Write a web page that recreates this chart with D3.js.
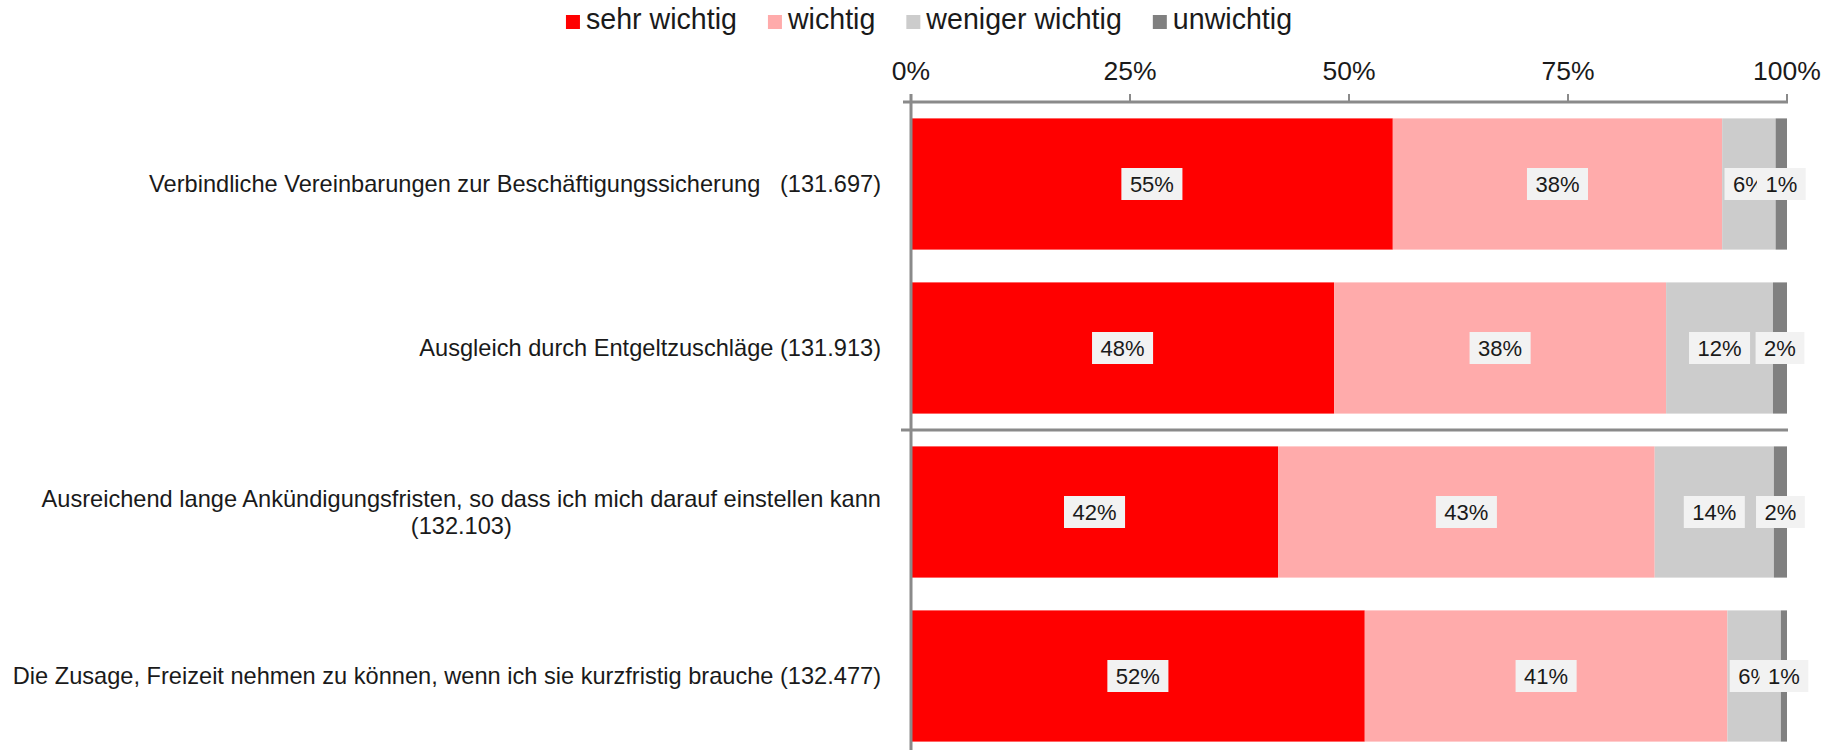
<!DOCTYPE html>
<html>
<head>
<meta charset="utf-8">
<script src="https://cdn.jsdelivr.net/npm/d3@7"></script>
<style>
  body { margin: 0; background: #fff; }
  text { font-family: "Liberation Sans", Arial, sans-serif; fill: #1a1a1a; }
</style>
</head>
<body>
<div id="chart"></div>
<script>
// DATA
var categories = [
  ["Verbindliche Vereinbarungen zur Beschäftigungssicherung   (131.697)"],
  ["Ausgleich durch Entgeltzuschläge (131.913)"],
  ["Ausreichend lange Ankündigungsfristen, so dass ich mich darauf einstellen kann", "(132.103)"],
  ["Die Zusage, Freizeit nehmen zu können, wenn ich sie kurzfristig brauche (132.477)"]
];
var seriesNames = ["sehr wichtig", "wichtig", "weniger wichtig", "unwichtig"];
var sehrWichtig = [55.0, 48.3, 41.9, 51.8];
var wichtig = [37.6, 37.9, 43.0, 41.4];
var wenigerWichtig = [6.1, 12.2, 13.6, 6.1];
var unwichtig = [1.3, 1.6, 1.5, 0.7];
var tickValues = [0, 25, 50, 75, 100];

var colours = ["#ff0000", "#ffabab", "#cccccc", "#808080"];

var width = 1838, height = 750;
var table = categories.map(function(c, i) {
  return {idx: i, "sehr wichtig": sehrWichtig[i], "wichtig": wichtig[i],
          "weniger wichtig": wenigerWichtig[i], "unwichtig": unwichtig[i]};
});

var svg = d3.select("#chart").append("svg")
  .attr("width", width)
  .attr("height", height);

var xScale = d3.scaleLinear().domain([0, 100]).range([911, 1787]);
var yScale = d3.scaleBand()
  .domain(d3.range(categories.length))
  .range([102, 758])
  .paddingInner(0.2)
  .paddingOuter(0.1);
var colour = d3.scaleOrdinal().domain(seriesNames).range(colours);

var stacked = d3.stack().keys(seriesNames)(table);

// bars
var layers = svg.append("g").selectAll("g")
  .data(stacked)
  .enter().append("g")
  .attr("fill", function(d) { return colour(d.key); });

layers.selectAll("rect")
  .data(function(d) { return d; })
  .enter().append("rect")
  .attr("x", function(d) { return xScale(d[0]); })
  .attr("y", function(d) { return yScale(d.data.idx); })
  .attr("width", function(d) { return xScale(d[1]) - xScale(d[0]); })
  .attr("height", yScale.bandwidth());

// axes
var axisCol = "#8a8a8a";
var axisG = svg.append("g");
axisG.append("line")
  .attr("x1", xScale(0) - 8).attr("x2", xScale(100) + 1)
  .attr("y1", 102).attr("y2", 102)
  .attr("stroke", axisCol).attr("stroke-width", 3);
axisG.selectAll("line.tick")
  .data(tickValues)
  .enter().append("line")
  .attr("class", "tick")
  .attr("x1", function(d) { return xScale(d); })
  .attr("x2", function(d) { return xScale(d); })
  .attr("y1", 102).attr("y2", 94)
  .attr("stroke", axisCol).attr("stroke-width", 2);
axisG.selectAll("text")
  .data(tickValues)
  .enter().append("text")
  .attr("x", function(d) { return xScale(d); })
  .attr("y", 80)
  .attr("text-anchor", "middle")
  .style("font-size", "26.5px")
  .text(function(d) { return d + "%"; });

// vertical category axis
axisG.append("line")
  .attr("x1", xScale(0)).attr("x2", xScale(0))
  .attr("y1", 94).attr("y2", height)
  .attr("stroke", axisCol).attr("stroke-width", 3);

// separator between the two halves
var sepY = yScale(2) - yScale.step() * yScale.paddingInner() / 2;
axisG.append("line")
  .attr("x1", xScale(0) - 10).attr("x2", xScale(100) + 1)
  .attr("y1", sepY).attr("y2", sepY)
  .attr("stroke", axisCol).attr("stroke-width", 3);

// data labels (drawn segment by segment, later ones on top)
var labelG = svg.append("g");
table.forEach(function(row, i) {
  stacked.forEach(function(s) {
    var d = s[i];
    var cx = (xScale(d[0]) + xScale(d[1])) / 2;
    var cy = yScale(i) + yScale.bandwidth() / 2;
    var g = labelG.append("g");
    var t = g.append("text")
      .attr("x", cx).attr("y", cy + 8)
      .attr("text-anchor", "middle")
      .style("font-size", "22px")
      .text(Math.round(d[1] - d[0]) + "%");
    var w = t.node().getComputedTextLength() + 17;
    g.insert("rect", "text")
      .attr("x", cx - w / 2).attr("y", cy - 16)
      .attr("width", w).attr("height", 32)
      .attr("fill", "#f2f2f2");
  });
});

// category labels: block right aligned, lines centred in block
var catG = svg.append("g");
categories.forEach(function(lines, i) {
  var cy = yScale(i) + yScale.bandwidth() / 2;
  var lh = 27;
  var g = catG.append("g");
  var texts = lines.map(function(l, j) {
    return g.append("text")
      .attr("y", cy + 8 + (j - (lines.length - 1) / 2) * lh)
      .attr("text-anchor", "middle")
      .style("font-size", "23.6px")
      .style("white-space", "pre")
      .text(l);
  });
  var maxW = d3.max(texts, function(t) { return t.node().getComputedTextLength(); });
  texts.forEach(function(t) { t.attr("x", 881 - maxW / 2); });
});

// legend
var legend = svg.append("g");
var lx = 0;
seriesNames.forEach(function(name) {
  var item = legend.append("g").attr("transform", "translate(" + lx + ",0)");
  item.append("rect")
    .attr("x", 0).attr("y", 15).attr("width", 14).attr("height", 14)
    .attr("fill", colour(name));
  var t = item.append("text")
    .attr("x", 20).attr("y", 29)
    .style("font-size", "28.6px")
    .text(name);
  lx += 20 + t.node().getComputedTextLength() + 31;
});
var legendW = lx - 31;
legend.attr("transform", "translate(" + (929 - legendW / 2) + ",0)");
</script>
</body>
</html>
